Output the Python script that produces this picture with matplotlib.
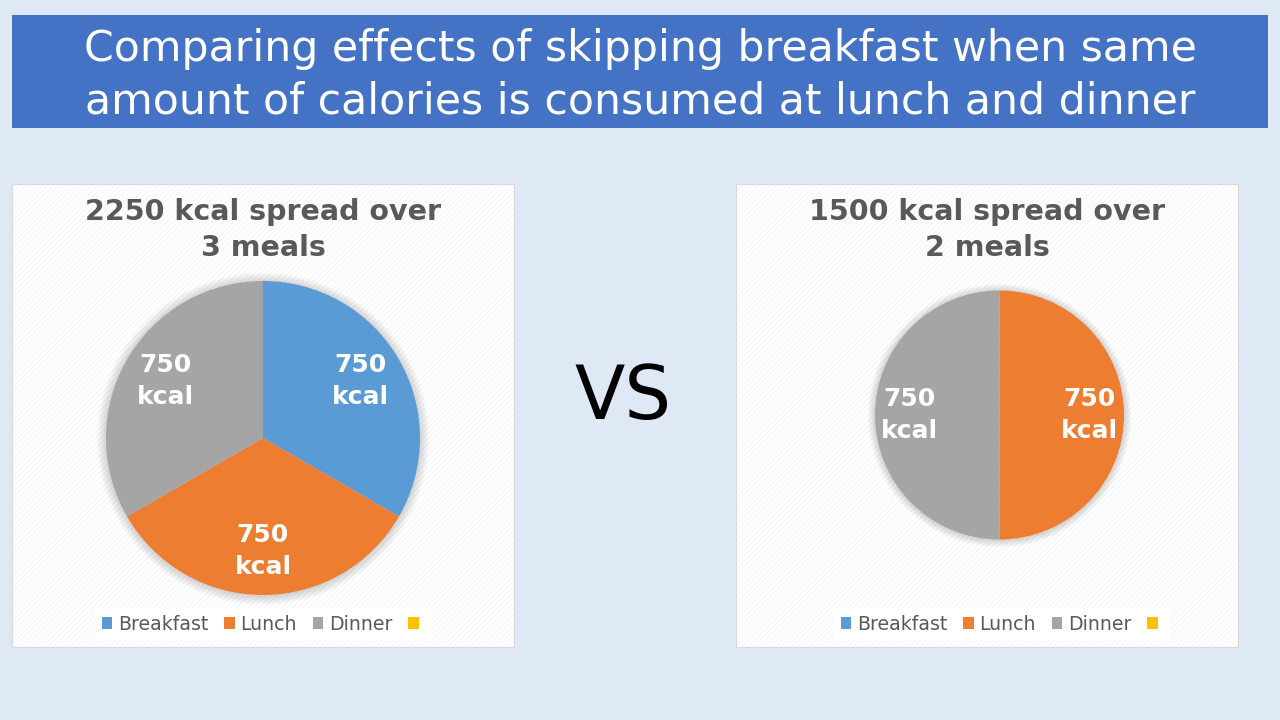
import matplotlib
matplotlib.use("Agg")
import matplotlib.pyplot as plt
from matplotlib.patches import Rectangle, Circle, Patch

# ---- data ----
categories = ['Breakfast', 'Lunch', 'Dinner', '']
left_values = [750, 750, 750, 0]
right_values = [0, 750, 750, 0]
left_title = "2250 kcal spread over\n3 meals"
right_title = "1500 kcal spread over\n2 meals"
main_title = "Comparing effects of skipping breakfast when same\namount of calories is consumed at lunch and dinner"
unit = "kcal"

colors = ['#5B9BD5', '#ED7D31', '#A5A5A5', '#FFC000']
BG = '#DEE9F5'
BANNER = '#4472C4'
TXT = '#595959'

W, H = 1280, 720
fig = plt.figure(figsize=(12.8, 7.2), dpi=100)
fig.patch.set_facecolor(BG)

bg = fig.add_axes([0, 0, 1, 1])
bg.set_xlim(0, W)
bg.set_ylim(H, 0)
bg.axis('off')

# banner
bg.add_patch(Rectangle((12, 15), 1256, 113, facecolor=BANNER, edgecolor='none'))
bg.text(640, 75, main_title, ha='center', va='center', color='white',
        fontsize=30.7, linespacing=1.32, family='DejaVu Sans')

# panels
plt.rcParams['hatch.linewidth'] = 0.5
for x0 in (12, 736):
    bg.add_patch(Rectangle((x0, 184), 502, 463, facecolor='white',
                           edgecolor='#F1F1F1', hatch='//////', linewidth=0))
    bg.add_patch(Rectangle((x0, 184), 502, 463, facecolor='none',
                           edgecolor='#D9D9D9', linewidth=0.8))

bg.text(263, 230, left_title, ha='center', va='center', color=TXT,
        fontsize=20.5, fontweight='bold', linespacing=1.35)
bg.text(987, 230, right_title, ha='center', va='center', color=TXT,
        fontsize=20.5, fontweight='bold', linespacing=1.35)

bg.text(623, 399, "VS", ha='center', va='center', color='black', fontsize=53)


def draw_pie(cx, cy, r, values):
    S = 1.12
    R = r * S
    ax = fig.add_axes([(cx - R) / W, 1 - (cy + R) / H, 2 * R / W, 2 * R / H])
    ax.set_zorder(2)
    total = sum(values)
    # soft shadow
    for i in range(10):
        ax.add_patch(Circle((0, -0.005), 1.0 + 0.006 * (i + 1), facecolor='black',
                            alpha=0.016, edgecolor='none', zorder=0))
    wedges, texts, autotexts = ax.pie(
        values, colors=colors, startangle=90, counterclock=False, radius=1,
        autopct=lambda p: f"{p * total / 100:.0f}\n{unit}" if p > 0 else '',
        pctdistance=0.72, wedgeprops=dict(linewidth=0),
        textprops=dict(color='white', fontsize=18, fontweight='bold'))
    for t in autotexts:
        t.set_linespacing(1.42)
    ax.set_xlim(-S, S)
    ax.set_ylim(-S, S)
    ax.axis('off')
    return ax


draw_pie(263, 438, 157, left_values)
draw_pie(999.5, 415, 124.5, right_values)

handles = [Patch(facecolor=c, edgecolor='none') for c in colors]
for lx in (263, 1002):
    leg = fig.legend(handles, categories, loc='center',
                     bbox_to_anchor=(lx / W, 1 - 624 / H), ncol=4,
                     frameon=True, fancybox=False, framealpha=1,
                     facecolor='white', edgecolor='none', fontsize=13.6,
                     handlelength=0.55, handleheight=0.55, handletextpad=0.3,
                     columnspacing=0.85, borderpad=0.35, labelcolor=TXT)

fig.savefig('out.png', dpi=100, facecolor=BG)
